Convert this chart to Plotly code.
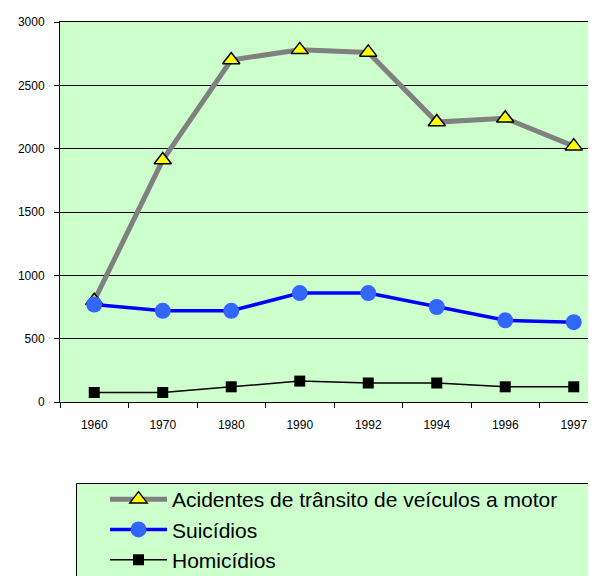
import plotly.graph_objects as go

years = ["1960", "1970", "1980", "1990", "1992", "1994", "1996", "1997"]
acidentes = [800, 1910, 2700, 2780, 2760, 2210, 2240, 2020]
suicidios = [770, 720, 720, 860, 860, 750, 645, 630]
homicidios = [75, 75, 120, 165, 150, 150, 120, 120]

names = ["Acidentes de trânsito de veículos a motor", "Suicídios", "Homicídios"]
y_ticks = [0, 500, 1000, 1500, 2000, 2500, 3000]

# page has an 8px body margin; figure coordinates = page coordinates - 8
OFF = 8
W, H = 596 - OFF, 576 - OFF
ML, MR, MT = 60 - OFF, 0, 22 - OFF
MB = H - (402 - OFF)

fig = go.Figure()
fig.add_trace(go.Scatter(
    x=years, y=acidentes, name=names[0], mode="lines+markers",
    line=dict(color="#808080", width=5),
    marker=dict(symbol="triangle-up", size=15, color="#FFFF00",
                line=dict(color="#000000", width=1.5)),
))
fig.add_trace(go.Scatter(
    x=years, y=suicidios, name=names[1], mode="lines+markers",
    line=dict(color="#0000FF", width=3.5),
    marker=dict(symbol="circle", size=16, color="#3366FF",
                line=dict(width=0)),
))
fig.add_trace(go.Scatter(
    x=years, y=homicidios, name=names[2], mode="lines+markers",
    line=dict(color="#000000", width=1.5),
    marker=dict(symbol="square", size=11, color="#000000",
                line=dict(width=0)),
))

plot_w = W - ML - MR
plot_h = H - MT - MB
cat_px = 68.5
xr_max = -0.5 + plot_w / cat_px

def px_x(page_x):
    return (page_x - OFF - ML) / plot_w

def px_y(page_y):
    return ((H - MB) - (page_y - OFF)) / plot_h

fig.update_layout(
    width=W, height=H,
    margin=dict(l=ML, r=MR, t=MT, b=MB, pad=0, autoexpand=False),
    paper_bgcolor="#FFFFFF",
    plot_bgcolor="#CCFFCC",
    font=dict(family="Liberation Sans, Arial, sans-serif", color="#000000"),
    xaxis=dict(
        type="category", range=[-0.5, xr_max],
        showgrid=False, showline=True, linecolor="#000000", linewidth=1,
        mirror=True, ticks="outside", tickson="boundaries", ticklen=5,
        tickcolor="#000000", tickfont=dict(size=12), zeroline=False,
        fixedrange=True, ticklabelstandoff=12,
    ),
    yaxis=dict(
        range=[0, 3000], tickvals=y_ticks,
        ticktext=[str(v) for v in y_ticks],
        showgrid=True, gridcolor="#000000", gridwidth=1,
        showline=True, linecolor="#000000", linewidth=1,
        ticks="outside", ticklen=5, tickcolor="#000000",
        tickfont=dict(size=12), zeroline=False, ticklabelstandoff=7,
    ),
    showlegend=True,
    legend=dict(
        x=px_x(105), xref="paper", xanchor="left",
        y=px_y(479), yref="paper", yanchor="top",
        bgcolor="rgba(0,0,0,0)", borderwidth=0,
        font=dict(size=21, color="#000000"),
        tracegroupgap=0, itemwidth=57,
    ),
    shapes=[dict(
        type="rect", xref="paper", yref="paper",
        x0=px_x(76.5), x1=px_x(592.5),
        y0=px_y(590), y1=px_y(483.5),
        line=dict(color="#000000", width=1), fillcolor="#CCFFCC",
        layer="below",
    )],
)

fig.write_html("out.html")
